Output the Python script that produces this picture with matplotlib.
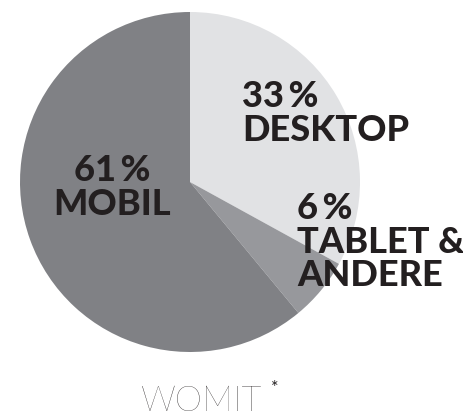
import matplotlib
matplotlib.use("Agg")
import matplotlib.pyplot as plt

# data
labels = ["DESKTOP", "TABLET &\nANDERE", "MOBIL"]
shares = [33, 6, 61]
colors = ["#e1e2e4", "#97989c", "#808185"]

W, H = 464, 418
CX, CY, R = 190, 182, 170
TEXT = "#231f20"

fig = plt.figure(figsize=(W / 100, H / 100), dpi=100)
fig.patch.set_facecolor("white")
ax = fig.add_axes([(CX - R) / W, (H - CY - R) / H, 2 * R / W, 2 * R / H])
ax.pie(shares, colors=colors, startangle=90, counterclock=False,
       radius=1, wedgeprops=dict(linewidth=0))
ax.set_xlim(-1, 1)
ax.set_ylim(-1, 1)
ax.set_aspect("equal")
ax.axis("off")


def px(x, y):
    return (x - CX) / R, (CY - y) / R


# label positions in pixels (left/top of text block)
spots = [(242, 80, "left"), (297, 192, "left"), (112, 154, "center")]
font = dict(family=["Lato", "DejaVu Sans"], fontweight="black", color=TEXT,
            fontsize=26, va="top", linespacing=1.02)
for (x, y, ha), lab, val in zip(spots, labels, shares):
    tx, ty = px(x, y)
    ax.text(tx, ty, f"{val}\u2009%\n{lab}", ha=ha, **font)

fig.text(202 / W, 1 - 411 / H, "WOMIT", ha="center", va="baseline",
         family=["Lato", "DejaVu Sans"], fontweight="light", fontsize=25, color=TEXT)
fig.text(271 / W, 1 - 393 / H, "*", ha="left", va="baseline",
         family=["Lato", "DejaVu Sans"], fontweight="normal", fontsize=13, color=TEXT)

fig.savefig("out.png", dpi=100, facecolor="white")
